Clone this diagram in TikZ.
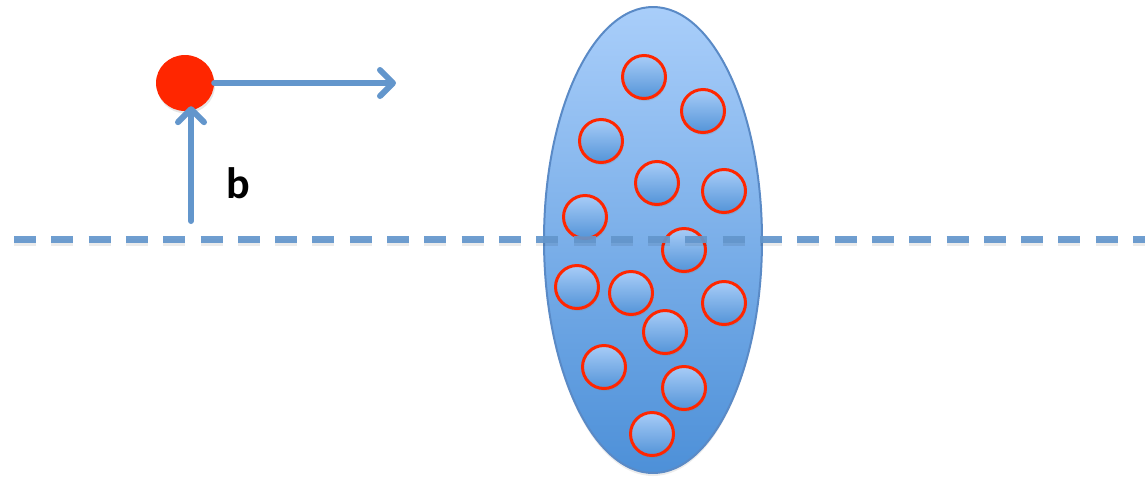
\documentclass[tikz,border=0pt]{standalone}
\usepackage{fontspec}
\setmainfont{Carlito}
\usetikzlibrary{shapes.geometric,arrows.meta,shadows}

\definecolor{lineblue}{HTML}{6396CC}
\definecolor{edgeblue}{HTML}{5A8AC6}
\definecolor{dotred}{HTML}{FF2600}
\definecolor{skytop}{HTML}{A9CEFA}
\definecolor{skybot}{HTML}{4D90D8}
\definecolor{balltop}{HTML}{A8CCF7}
\definecolor{ballbot}{HTML}{5394D8}

\tikzset{
  arr/.style={draw=lineblue, line width=6pt, line cap=round,
    -{Straight Barb[length=13pt,width=26pt,line cap=round,line join=round]}},
  axis/.style={draw=lineblue, line width=7pt, dash pattern=on 22pt off 15.3pt},
  axisshadow/.style={draw=black, opacity=0.08, line width=7pt, dash pattern=on 22pt off 15.3pt},
  particle/.style={circle, minimum size=43pt, inner sep=0pt, draw=dotred,
    line width=3pt, top color=balltop, bottom color=ballbot,
    drop shadow={shadow xshift=1pt, shadow yshift=-2.5pt, opacity=0.22}},
  target/.style={ellipse, minimum width=218pt, minimum height=466pt, inner sep=0pt,
    draw=edgeblue, line width=2pt, top color=skytop, bottom color=skybot,
    drop shadow={shadow xshift=0pt, shadow yshift=-3pt, opacity=0.15}},
  projectile/.style={ellipse, minimum width=58pt, minimum height=56pt, inner sep=0pt,
    fill=dotred,
    drop shadow={shadow xshift=1pt, shadow yshift=-2.5pt, opacity=0.2}},
  lbl/.style={font=\bfseries\fontsize{44}{48}\selectfont, text=black, inner sep=0pt}
}

\begin{document}
\begin{tikzpicture}[x=1pt,y=-1pt]
  \useasboundingbox (0,0) rectangle (1145,483);

  % target cloud
  \node[target] (cloud) at (653,240) {};

  % particles inside the cloud
  \foreach \i/\px/\py in {1/644/77, 2/703/111, 3/601/141, 4/657/183, 5/724/191,
      6/585/217, 7/684/250, 8/577/287, 9/631/293, 10/724/303, 11/665/332,
      12/604/367, 13/684/388, 14/652/434}
    \node[particle] (p\i) at (\px,\py) {};

  % incoming projectile and its direction
  \node[projectile] (dot) at (185,83) {};
  \coordinate (dirtip) at (396,83);
  \draw[arr] (dot.east) -- (dirtip);

  % impact parameter
  \coordinate (bbase) at (191,221);
  \draw[arr] (bbase) -- ([xshift=6pt,yshift=5pt]dot.south);
  \node[lbl] (b) at (238,183) {b};

  % beam axis
  \coordinate (axisL) at (14,239.5);
  \coordinate (axisR) at (1160,239.5);
  \draw[axisshadow] ([yshift=-3pt]axisL) -- ([yshift=-3pt]axisR);
  \draw[axis, opacity=0.92] (axisL) -- (axisR);
\end{tikzpicture}
\end{document}
